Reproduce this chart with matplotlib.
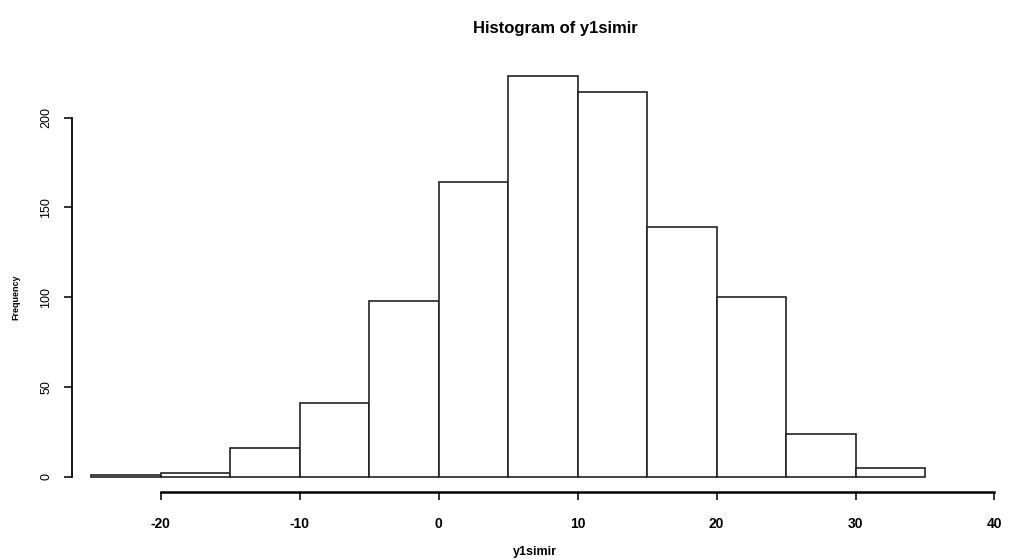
import matplotlib
matplotlib.use("Agg")
import matplotlib.pyplot as plt
import numpy as np

# Histogram data
bin_edges = [-25, -20, -15, -10, -5, 0, 5, 10, 15, 20, 25, 30, 35]
counts = [1, 2, 16, 41, 98, 164, 223, 214, 139, 100, 24, 5]
x_ticks = [-20, -10, 0, 10, 20, 30, 40]
y_ticks = [0, 50, 100, 150, 200]
title = "Histogram of y1simir"
xlabel = "y1simir"
ylabel = "Frequency"

plt.rcParams['font.family'] = ['Liberation Sans', 'DejaVu Sans']

fig = plt.figure(figsize=(10.09, 5.6), dpi=100)
ax = fig.add_axes([72/1009, 1-492/560, (1005-72)/1009, (492-60)/560])

lefts = np.array(bin_edges[:-1])
widths = np.diff(bin_edges)
ax.bar(lefts, counts, width=widths, align='edge', facecolor='white',
       edgecolor='#222222', linewidth=1.2)

ax.set_xlim(-26.4, 40.76)
ax.set_ylim(-8.4, 232)

for s in ['top', 'right']:
    ax.spines[s].set_visible(False)
ax.spines['left'].set_bounds(0, 200)
ax.spines['bottom'].set_bounds(-20, 40)
ax.spines['left'].set_linewidth(1.3)
ax.spines['bottom'].set_linewidth(1.8)

ax.set_xticks(x_ticks)
ax.set_xticklabels([str(v) for v in x_ticks], fontsize=10, fontweight='bold')
ax.set_yticks(y_ticks)
ax.set_yticklabels([str(v) for v in y_ticks], fontsize=9, rotation=90, va='center')
ax.tick_params(axis='both', direction='out', length=6, width=1.3, color='#222222')
ax.tick_params(axis='x', pad=12)
ax.tick_params(axis='y', pad=8)

fig.text(0.55, 0.95, title, ha='center', va='center', fontsize=12, fontweight='bold')
fig.text(0.53, 0.015, xlabel, ha='center', va='center', fontsize=9, fontweight='bold')
fig.text(0.016, 0.47, ylabel, ha='center', va='center', fontsize=6.5, rotation=90, fontweight='bold')

fig.savefig("out.png", dpi=100, facecolor='white')
